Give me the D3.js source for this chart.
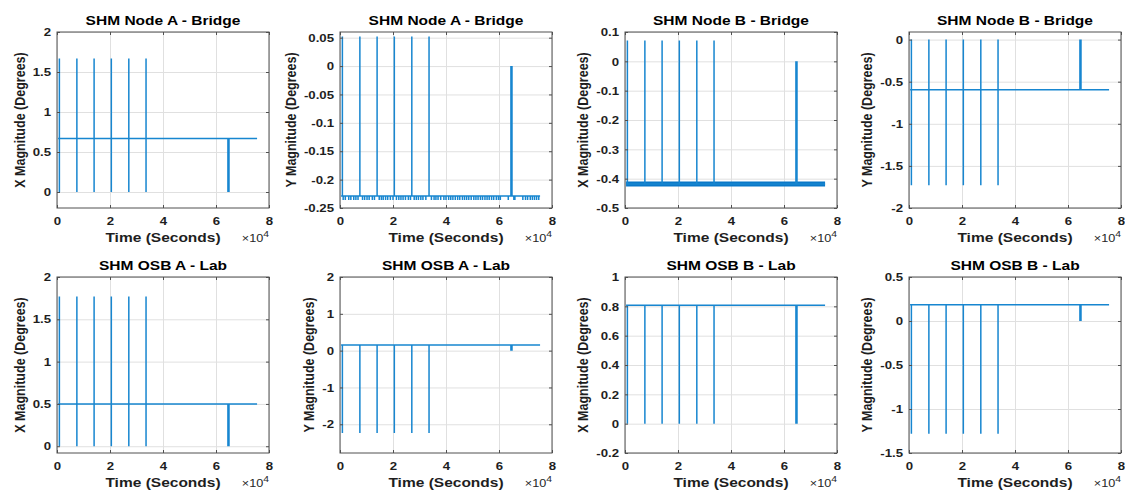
<!DOCTYPE html>
<html><head><meta charset="utf-8">
<script src="https://cdn.jsdelivr.net/npm/d3@7"></script>
<style>
html,body{margin:0;padding:0;background:#fff;}
svg{display:block;font-family:"Liberation Sans",Arial,sans-serif;}
</style></head>
<body><svg id="c" width="1125" height="491"></svg>
<script>
// ---------- data (time in units of 10^4 seconds) ----------
const titles = ["SHM Node A - Bridge","SHM Node A - Bridge","SHM Node B - Bridge","SHM Node B - Bridge",
                "SHM OSB A - Lab","SHM OSB A - Lab","SHM OSB B - Lab","SHM OSB B - Lab"];
const yLabels = ["X Magnitude (Degrees)","Y Magnitude (Degrees)","X Magnitude (Degrees)","Y Magnitude (Degrees)",
                 "X Magnitude (Degrees)","Y Magnitude (Degrees)","X Magnitude (Degrees)","Y Magnitude (Degrees)"];
const xLabel = "Time (Seconds)";
const timeTicks = [0, 2, 4, 6, 8];
const spikeTimes = [0.09, 0.75, 1.40, 2.05, 2.71, 3.36];
const eventTimes = [6.45, 6.47, 6.49];
const recordSpan = [0.04, 7.55];
const baseValues  = [0.67, -0.229, -0.418, -0.597, 0.50, 0.155, 0.807, 0.186];
const spikeHigh   = [1.67, 0.052, 0.071, 0.0, 1.77, 0.155, 0.807, 0.186];
const spikeLow    = [0.0, -0.229, -0.418, -1.73, 0.0, -2.24, 0.0, -1.28];
const eventValues = [0.0, 0.0, 0.0, 0.0, 0.0, 0.0, 0.0, 0.0];
const yDomains = [[-0.2, 2], [-0.25, 0.06], [-0.5, 0.1], [-2, 0.09],
                  [-0.08, 2], [-2.78, 2], [-0.2, 1], [-1.5, 0.5]];
const yTicks = [[0, 0.5, 1, 1.5, 2],
                [-0.25, -0.2, -0.15, -0.1, -0.05, 0, 0.05],
                [-0.5, -0.4, -0.3, -0.2, -0.1, 0, 0.1],
                [-2, -1.5, -1, -0.5, 0],
                [0, 0.5, 1, 1.5, 2],
                [-2, -1, 0, 1, 2],
                [-0.2, 0, 0.2, 0.4, 0.6, 0.8, 1],
                [-1.5, -1, -0.5, 0, 0.5]];
// noise dips on panel 2 (Node A, Y)
const noiseTimesP2 = [0.12,0.2,0.33,0.41,0.52,0.6,0.68,0.85,0.93,1.02,1.1,1.22,1.3,1.48,1.56,1.63,1.72,1.8,1.9,2.0,
  2.13,2.22,2.3,2.38,2.47,2.58,2.66,2.8,2.88,2.96,3.05,3.13,3.24,3.45,3.55,3.62,3.7,3.8,3.92,4.0,4.1,4.18,4.26,
  4.35,4.44,4.52,4.62,4.7,4.78,4.86,4.95,5.05,5.13,5.21,5.3,5.38,5.47,5.55,5.63,5.72,5.8,5.9,5.98,6.05,6.35,
  6.56,6.6,6.9,7.0,7.08,7.18,7.26,7.34,7.42,7.5];
const noiseValueP2 = -0.236;
// noise band on panel 3 (Node B, X)
const bandP3 = [-0.427, -0.410];

// ---------- layout ----------
const colLeft = [57, 340, 625, 909], rowTop = [32, 277], plotW = 212, plotH = 176;
const SX = 1.15; // horizontal text stretch of the reference
const lineColor = "#1786d0";
const svg = d3.select("#c");
const defs = svg.append("defs");

function stretchText(sel){
  sel.each(function(){
    const t = d3.select(this);
    const x = +t.attr("x") || 0, y = +t.attr("y") || 0;
    t.attr("x", 0).attr("y", 0).attr("transform", `translate(${x},${y}) scale(${SX},1)`);
  });
}

titles.forEach((title, i) => {
  const x0 = colLeft[i % 4], y0 = rowTop[Math.floor(i / 4)];
  const g = svg.append("g").attr("transform", `translate(${x0},${y0})`);
  const x = d3.scaleLinear().domain([0, 8]).range([0, plotW]);
  const y = d3.scaleLinear().domain(yDomains[i]).range([plotH, 0]);

  // grid
  const gx = g.append("g").attr("transform", `translate(0,${plotH})`)
    .call(d3.axisBottom(x).tickValues(timeTicks).tickSize(-plotH).tickFormat(""));
  const gy = g.append("g")
    .call(d3.axisLeft(y).tickValues(yTicks[i]).tickSize(-plotW).tickFormat(""));
  [gx, gy].forEach(a => { a.select(".domain").remove(); a.selectAll("line").attr("stroke", "#e0e0e0").attr("stroke-width", 1); });

  // clip
  defs.append("clipPath").attr("id", "clip" + i).append("rect")
    .attr("x", 0).attr("y", 0).attr("width", plotW).attr("height", plotH);
  const data = g.append("g").attr("clip-path", `url(#clip${i})`);

  // excursions
  const base = baseValues[i];
  const exc = [];
  spikeTimes.forEach(t => exc.push({t, vals: [spikeHigh[i], spikeLow[i]]}));
  eventTimes.forEach(t => exc.push({t, vals: [eventValues[i]]}));
  if (i === 1) noiseTimesP2.forEach(t => exc.push({t, vals: [noiseValueP2]}));
  exc.sort((a, b) => a.t - b.t);
  const pts = [[recordSpan[0], base]];
  exc.forEach(e => { pts.push([e.t, base]); e.vals.forEach(v => pts.push([e.t, v])); pts.push([e.t, base]); });
  pts.push([recordSpan[1], base]);

  if (i === 2) {
    const area = d3.area().x(d => x(d)).y0(y(bandP3[0])).y1(y(bandP3[1]));
    data.append("path").datum(recordSpan).attr("d", area).attr("fill", "#0a78c8");
  }
  data.append("path").datum(pts)
    .attr("d", d3.line().x(d => x(d[0])).y(d => y(d[1])))
    .attr("fill", "none").attr("stroke", lineColor).attr("stroke-width", 1.5)
    .attr("stroke-linejoin", "miter");

  // axes with inward ticks
  const ax = g.append("g").attr("transform", `translate(0,${plotH})`)
    .call(d3.axisBottom(x).tickValues(timeTicks).tickSizeInner(-3).tickSizeOuter(0).tickPadding(9).tickFormat(d3.format("d")));
  const ay = g.append("g")
    .call(d3.axisLeft(y).tickValues(yTicks[i]).tickSizeInner(-3).tickSizeOuter(0).tickPadding(6).tickFormat(v => String(v)));
  const at = g.append("g")
    .call(d3.axisTop(x).tickValues(timeTicks).tickSizeInner(-3).tickSizeOuter(0).tickFormat(""));
  const ar = g.append("g").attr("transform", `translate(${plotW},0)`)
    .call(d3.axisRight(y).tickValues(yTicks[i]).tickSizeInner(-3).tickSizeOuter(0).tickFormat(""));
  [ax, ay, at, ar].forEach(a => {
    a.select(".domain").remove();
    a.selectAll("line").attr("stroke", "#505050");
    a.selectAll("text").attr("font-size", 11.5).attr("font-weight", "bold").attr("fill", "#1e1e1e")
      .attr("font-family", "Liberation Sans, Arial, sans-serif");
  });
  stretchText(ax.selectAll("text"));
  stretchText(ay.selectAll("text"));

  // box
  g.append("rect").attr("width", plotW).attr("height", plotH)
    .attr("fill", "none").attr("stroke", "#505050").attr("stroke-width", 1);

  // title
  g.append("g").attr("transform", `translate(${plotW / 2},-7) scale(${SX},1)`)
    .append("text").attr("text-anchor", "middle").attr("font-size", 13.5).attr("font-weight", "bold")
    .attr("fill", "#000").text(title);

  // x label
  g.append("g").attr("transform", `translate(${plotW / 2},${plotH + 34}) scale(${SX},1)`)
    .append("text").attr("text-anchor", "middle").attr("font-size", 13.5).attr("font-weight", "bold")
    .attr("fill", "#1e1e1e").text(xLabel);

  // x10^4 exponent
  const ex = g.append("g").attr("transform", `translate(${plotW},${plotH + 34}) scale(${SX},1)`)
    .append("text").attr("text-anchor", "end").attr("font-size", 11).attr("fill", "#262626");
  ex.append("tspan").text("\u00d710");
  ex.append("tspan").attr("dy", -5).attr("font-size", 9).text("4");

  // y label placed by tick label width
  let maxW = 0;
  ay.selectAll("text").each(function(){ maxW = Math.max(maxW, this.getComputedTextLength()); });
  const ylx = -(6 + maxW * SX + 13);
  g.append("g").attr("transform", `translate(${ylx},${plotH / 2}) scale(${SX},1) rotate(-90)`)
    .append("text").attr("text-anchor", "middle").attr("dy", "0.35em").attr("font-size", 12.5)
    .attr("font-weight", "bold").attr("fill", "#1e1e1e").text(yLabels[i]);
});
</script>
</body></html>
